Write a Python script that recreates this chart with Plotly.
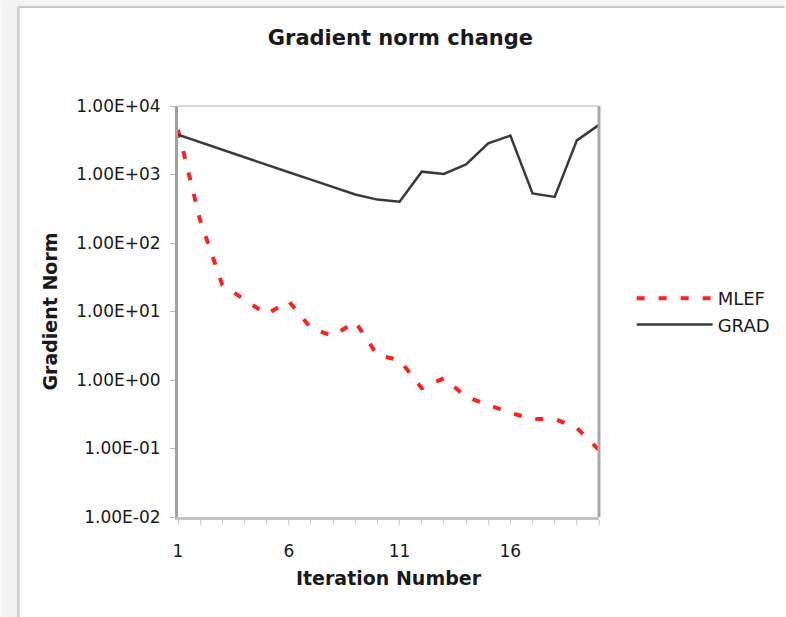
import plotly.graph_objects as go

# ---- data ----
iterations = list(range(1, 21))
mlef = [4500, 215, 24.5, 15, 9.1, 14.2, 5.7, 4.4, 7.1, 2.3,
        1.96, 0.76, 1.06, 0.57, 0.43, 0.33, 0.27, 0.27, 0.2, 0.095]
grad = [3800, 2940, 2290, 1780, 1380, 1080, 840, 650, 510, 430,
        400, 1100, 1020, 1400, 2850, 3700, 530, 470, 3150, 5300]
x_tick_labels = {1: "1", 6: "6", 11: "11", 16: "16"}
y_tick_vals = [1e-2, 1e-1, 1e0, 1e1, 1e2, 1e3, 1e4]
y_tick_text = ["1.00E-02", "1.00E-01", "1.00E+00", "1.00E+01",
               "1.00E+02", "1.00E+03", "1.00E+04"]

W, H = 786, 617
ML, MR, MT, MB = 178, 186, 106, 100
PW, PH = W - ML - MR, H - MT - MB

def px(x):
    return (x - ML) / PW

def py(y):
    return (H - MB - y) / PH

FONT = "DejaVu Sans"
TXT = "#1a1a1a"

fig = go.Figure()
fig.add_trace(go.Scatter(
    x=iterations, y=mlef, name="MLEF", mode="lines",
    line=dict(color="#ff2020", width=4, dash="8px,14px"),
))
fig.add_trace(go.Scatter(
    x=iterations, y=grad, name="GRAD", mode="lines",
    line=dict(color="#3a3a3a", width=2.5),
))

shapes = []
# page frame (cropped screenshot border)
shapes.append(dict(type="rect", xref="paper", yref="paper",
                   x0=px(0), x1=px(17), y0=py(H), y1=py(0),
                   fillcolor="#f4f4f4", line=dict(width=0), layer="below"))
shapes.append(dict(type="rect", xref="paper", yref="paper",
                   x0=px(0), x1=px(W), y0=py(6), y1=py(0),
                   fillcolor="#f4f4f4", line=dict(width=0), layer="below"))
shapes.append(dict(type="line", xref="paper", yref="paper",
                   x0=px(17), x1=px(W), y0=py(7), y1=py(7),
                   line=dict(color="#c8c8c8", width=2)))
shapes.append(dict(type="line", xref="paper", yref="paper",
                   x0=px(18), x1=px(18), y0=py(7), y1=py(H),
                   line=dict(color="#d4d4d4", width=3)))
# plot-area frame
shapes.append(dict(type="line", xref="paper", yref="paper",
                   x0=0, x1=1, y0=1, y1=1, line=dict(color="#d6d6d6", width=2)))
shapes.append(dict(type="line", xref="paper", yref="paper",
                   x0=1, x1=1, y0=0, y1=1, line=dict(color="#a8a8a8", width=3)))

fig.update_layout(
    width=W, height=H,
    margin=dict(l=ML, r=MR, t=MT, b=MB),
    paper_bgcolor="white", plot_bgcolor="white",
    font=dict(family=FONT, color=TXT, size=17),
    title=dict(text="<b>Gradient norm change</b>", xref="paper",
               x=px(401), xanchor="center", yref="container",
               y=1 - 38 / H, yanchor="middle",
               font=dict(family=FONT, size=21, color=TXT)),
    showlegend=True,
    legend=dict(x=1.075, xanchor="left", y=0.5, yanchor="middle",
                font=dict(family=FONT, size=18, color=TXT),
                itemwidth=76, bgcolor="rgba(0,0,0,0)"),
    xaxis=dict(
        range=[1, 20], tickmode="array", tickvals=iterations,
        ticktext=[x_tick_labels.get(i, "") for i in iterations],
        showgrid=False, zeroline=False,
        showline=True, linecolor="#c4c4c4", linewidth=3,
        ticks="outside", ticklen=5, tickcolor="#cccccc", tickwidth=1,
        ticklabelstandoff=12,
        tickfont=dict(family=FONT, size=17, color=TXT),
        title=dict(text="<b>Iteration Number</b>", standoff=12,
                   font=dict(family=FONT, size=19, color=TXT)),
    ),
    yaxis=dict(
        type="log", range=[-2, 4], tickmode="array",
        tickvals=y_tick_vals, ticktext=y_tick_text,
        showgrid=False, zeroline=False,
        showline=True, linecolor="#a0a0a0", linewidth=3,
        ticks="outside", ticklen=5, tickcolor="#bbbbbb", tickwidth=1,
        ticklabelstandoff=6,
        tickfont=dict(family=FONT, size=17, color=TXT),
        title=dict(text="<b>Gradient Norm</b>", standoff=14,
                   font=dict(family=FONT, size=19, color=TXT)),
    ),
    shapes=shapes,
)

fig.write_html("out.html")
